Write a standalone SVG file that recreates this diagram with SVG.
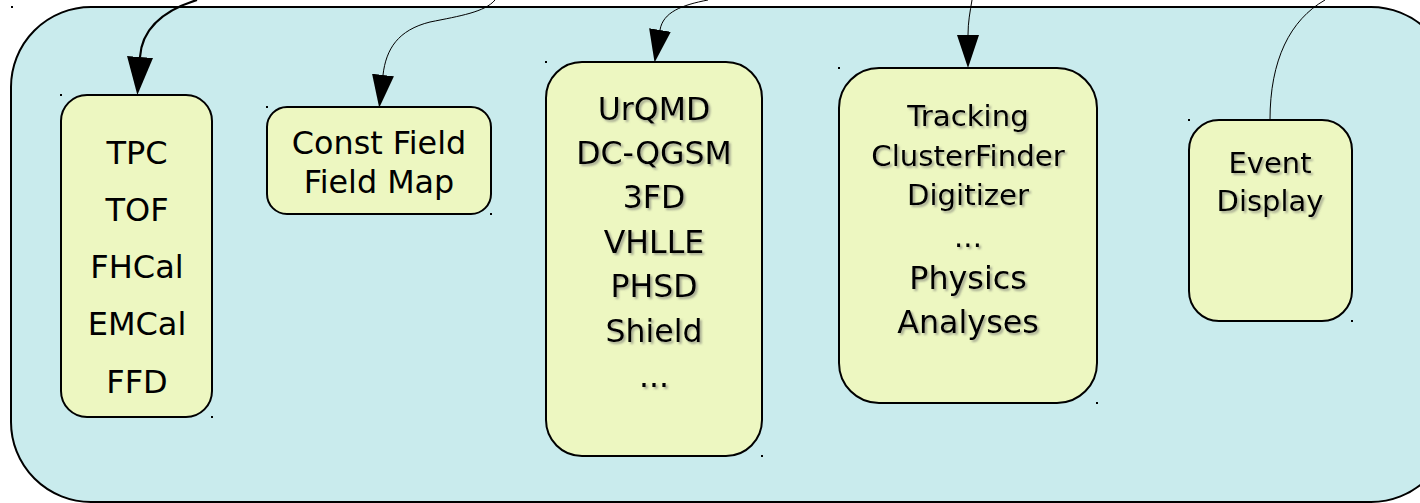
<svg xmlns="http://www.w3.org/2000/svg" width="1420" height="503" viewBox="0 0 1420 503">
<style>
.box{fill:#edf7c1;stroke:#000;stroke-width:2}
.cont{fill:#c9ebed;stroke:#000;stroke-width:2}
.t{font-family:"DejaVu Sans",sans-serif;fill:#000;text-anchor:middle}
.sh{filter:url(#shadow)}
.dot{fill:#000}
.c{fill:none;stroke:#000;stroke-width:1}
.ck{fill:none;stroke:#000;stroke-width:2.2}
</style>
<defs>
<filter id="shadow" x="-10%" y="-20%" width="130%" height="150%">
<feDropShadow dx="2" dy="2" stdDeviation="0.9" flood-color="#666" flood-opacity="0.55"/>
</filter>
<marker id="ah" markerUnits="userSpaceOnUse" viewBox="0 0 33 22" refX="0" refY="11" markerWidth="33" markerHeight="22" orient="auto">
<path d="M0,0 L33,11 L0,22 z" fill="#000"/>
</marker>
<marker id="ahk" markerUnits="userSpaceOnUse" viewBox="0 0 38 26" refX="0" refY="13" markerWidth="38" markerHeight="26" orient="auto">
<path d="M0,0 L38,13 L0,26 z" fill="#000"/>
</marker>
</defs>
<g id="container">
<rect class="cont" x="11" y="7" width="1440" height="495" rx="80" ry="80"/>
<rect class="dot" x="11" y="6" width="2" height="2"/>
</g>
<g id="connectors">
<path class="ck" d="M197,0 C165,10 142,28 140,57" marker-end="url(#ahk)"/>
<path class="c" d="M495,0 C485,12 460,16 430,22 C398,30 386,49 383,75" marker-end="url(#ah)"/>
<path class="c" d="M708,0 C682,5 663,12 660,30" marker-end="url(#ah)"/>
<path class="c" d="M972,0 C970,12 968,22 968,35" marker-end="url(#ah)"/>
<path class="c" d="M1325,0 C1290,20 1270,60 1270,120"/>
</g>
<g id="detectors">
<rect class="box" x="61" y="95" width="151" height="322" rx="26"/>
<rect class="dot" x="60" y="94" width="2" height="2"/>
<rect class="dot" x="211" y="416" width="2" height="2"/>
<g class="t" font-size="32">
<text x="137" y="164">TPC</text>
<text x="137" y="221">TOF</text>
<text x="137" y="278">FHCal</text>
<text x="137" y="335">EMCal</text>
<text x="137" y="393">FFD</text>
</g>
</g>
<g id="field">
<rect class="box" x="267" y="107" width="224" height="107" rx="20"/>
<rect class="dot" x="266" y="106" width="2" height="2"/>
<rect class="dot" x="490" y="213" width="2" height="2"/>
<g class="t" font-size="31.8">
<text x="379" y="154">Const Field</text>
<text x="379" y="193">Field Map</text>
</g>
</g>
<g id="generators">
<rect class="box" x="546" y="62" width="216" height="394" rx="36"/>
<rect class="dot" x="545" y="61" width="2" height="2"/>
<rect class="dot" x="761" y="455" width="2" height="2"/>
<g class="t sh" font-size="31.6">
<text x="654" y="120">UrQMD</text>
<text x="654" y="164">DC-QGSM</text>
<text x="654" y="208">3FD</text>
<text x="654" y="253">VHLLE</text>
<text x="654" y="297">PHSD</text>
<text x="654" y="342">Shield</text>
<text x="654" y="387">...</text>
</g>
</g>
<g id="reconstruction">
<rect class="box" x="839" y="68" width="258" height="335" rx="40"/>
<rect class="dot" x="838" y="67" width="2" height="2"/>
<rect class="dot" x="1096" y="402" width="2" height="2"/>
<g class="t sh">
<text x="968" y="126" font-size="29.2">Tracking</text>
<text x="968" y="166" font-size="29.2">ClusterFinder</text>
<text x="968" y="205" font-size="29.2">Digitizer</text>
<text x="968" y="247" font-size="29.2">...</text>
<text x="968" y="289" font-size="31.8">Physics</text>
<text x="968" y="333" font-size="31.8">Analyses</text>
</g>
</g>
<g id="eventdisplay">
<rect class="box" x="1189" y="120" width="163" height="201" rx="30"/>
<rect class="dot" x="1188" y="119" width="2" height="2"/>
<rect class="dot" x="1351" y="320" width="2" height="2"/>
<g class="t sh" font-size="29">
<text x="1270" y="173">Event</text>
<text x="1270" y="211">Display</text>
</g>
</g>
</svg>
